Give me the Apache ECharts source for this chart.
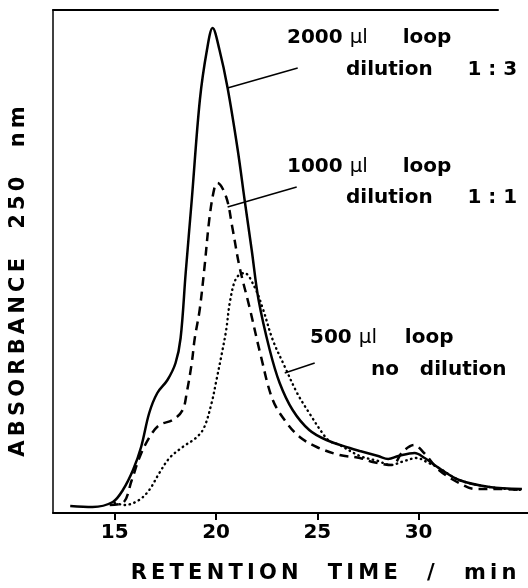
<!DOCTYPE html>
<html>
<head>
<meta charset="utf-8">
<script src="https://cdn.jsdelivr.net/npm/echarts@6/dist/echarts.min.js"></script>
<style>html,body{margin:0;padding:0;background:#fff;}#c{width:528px;height:588px;}</style>
</head>
<body>
<div id="c"></div>
<script>
// Retention time (min) and absorbance (arbitrary units)
const loop2000T = [12.8,13.9,14.9,15.4,15.9,16.3,16.7,17.1,17.6,18.0,18.25,18.5,18.8,19.2,19.55,19.83,20.17,20.57,21.07,21.41,21.76,22.1,22.65,23.14,23.78,24.6,25.45,26.6,27.1,28.0,28.5,29.0,29.8,30.3,31.0,32.0,33.5,35.1];
const loop2000V = [7,6,11,23,43,66,100,120,133,150,175,240,313,413,463,485,463,425,363,313,263,213,163,130,103,83,73,65,62,57,54,57,60,55,45,33,26,24];

const loop1000T = [14.75,15.4,15.84,16.23,16.72,17.2,17.86,18.35,18.55,18.8,18.95,19.19,19.43,19.68,19.93,20.07,20.5,20.8,21.16,21.66,22.2,22.8,23.49,24.13,24.97,26.1,27.1,27.73,28.7,29.2,29.78,30.27,31.0,32.0,32.8,34.0,35.1];
const loop1000V = [8,10,33,56,76,88,93,103,120,150,175,203,246,296,326,330,316,286,246,205,158,113,90,76,66,58,55,51,48,61,68,60,43,30,24,24,23];

const loop500T = [15.0,15.5,16.2,16.7,17.2,17.7,18.35,19.0,19.4,19.78,20.02,20.27,20.5,20.7,21.0,21.4,21.9,22.3,22.8,23.4,24.0,24.6,25.25,25.6,26.1,27.1,28.0,28.6,29.3,29.9,30.5,31.0,32.0,33.5,35.1];
const loop500V = [10,8,13,23,40,55,66,75,85,110,133,158,183,213,235,240,226,205,173,146,120,100,80,72,68,57,52,48,52,55,50,45,33,26,23];

const xTicks = [15, 20, 25, 30];

// leader lines (data coordinates): [from, to]
const leader2000 = [[24.03, 445], [20.57, 425]];
const leader1000 = [[23.98, 326], [20.57, 306]];
const leader500 = [[24.87, 150], [23.39, 140]];

const zip = (t, v) => t.map((x, i) => [x, v[i]]);
const FONT = '"DejaVu Sans", "Liberation Sans", sans-serif';
const TS = '\u2009';
const spaced = s => s.split('').join(TS);

function leader(pair) {
  return {
    silent: true, symbol: 'none', label: {show: false},
    lineStyle: {color: '#000', width: 1.5, type: 'solid'},
    data: [[{coord: pair[0]}, {coord: pair[1]}]]
  };
}

const chart = echarts.init(document.getElementById('c'), null, {renderer: 'canvas'});
const rich = {
  b: {fontFamily: FONT, fontWeight: 'bold', fontSize: 20, color: '#000'},
  m: {fontFamily: FONT, fontWeight: 'normal', fontSize: 20, color: '#000'}
};
function txt(x, y, text) {
  return {type: 'text', x: x, y: y, style: {text: text, rich: rich, fill: '#000',
    font: 'bold 20px ' + FONT, verticalAlign: 'middle'}};
}

chart.setOption({
  animation: false,
  backgroundColor: '#fff',
  grid: [
    {left: 53, top: 10, right: 0, bottom: 75, containLabel: false, outerBoundsMode: 'none'},
    {left: 53, top: 10, right: 30, bottom: 75, containLabel: false, outerBoundsMode: 'none'}
  ],
  xAxis: [{
    type: 'value', gridIndex: 0, min: 11.95, max: 35.4,
    axisLine: {show: true, lineStyle: {color: '#000', width: 2}},
    axisTick: {show: true, customValues: xTicks, length: 7, inside: false, lineStyle: {color: '#000', width: 2}},
    axisLabel: {show: true, customValues: xTicks, fontFamily: FONT, fontWeight: 'bold', fontSize: 20, color: '#000', margin: 10},
    splitLine: {show: false},
    name: spaced('RETENTION') + '    ' + spaced('TIME') + '    /    ' + spaced('min'),
    nameLocation: 'middle', nameGap: 50,
    nameTextStyle: {fontFamily: FONT, fontWeight: 'bold', fontSize: 21, color: '#000', padding: [0, 0, 0, 66]}
  }, {
    type: 'value', gridIndex: 1, position: 'top', min: 0, max: 1,
    axisLine: {show: true, onZero: false, lineStyle: {color: '#000', width: 2}},
    axisTick: {show: false}, axisLabel: {show: false}, splitLine: {show: false}
  }],
  yAxis: [{
    type: 'value', gridIndex: 0, min: 0, max: 503,
    axisLine: {show: true, lineStyle: {color: '#000', width: 1.5}},
    axisTick: {show: false}, axisLabel: {show: false}, splitLine: {show: false},
    name: spaced('ABSORBANCE') + '    ' + spaced('250') + '    ' + spaced('nm'),
    nameLocation: 'middle', nameRotate: 90, nameGap: 24,
    nameTextStyle: {fontFamily: FONT, fontWeight: 'bold', fontSize: 21, color: '#000', padding: [0, 40, 0, 0]}
  }, {
    type: 'value', gridIndex: 1, show: false, min: 0, max: 1
  }],
  series: [{
    name: '2000 µl loop, dilution 1:3', type: 'line', data: zip(loop2000T, loop2000V),
    showSymbol: false, smooth: 0.35,
    lineStyle: {color: '#000', width: 2.5, type: 'solid'},
    markLine: leader(leader2000)
  }, {
    name: '1000 µl loop, dilution 1:1', type: 'line', data: zip(loop1000T, loop1000V),
    showSymbol: false, smooth: 0.35,
    lineStyle: {color: '#000', width: 2.5, type: [9, 6]},
    markLine: leader(leader1000)
  }, {
    name: '500 µl loop, no dilution', type: 'line', data: zip(loop500T, loop500V),
    showSymbol: false, smooth: 0.35,
    lineStyle: {color: '#000', width: 2.4, type: [0.5, 4.5], cap: 'round'},
    markLine: leader(leader500)
  }],
  graphic: [
    txt(287, 38, '{b|2000} {m|\u03bcl}     {b|loop}'),
    txt(346, 70, 'dilution     1 : 3'),
    txt(287, 167, '{b|1000} {m|\u03bcl}     {b|loop}'),
    txt(346, 198, 'dilution     1 : 1'),
    txt(310, 338, '{b|500} {m|\u03bcl}    {b|loop}'),
    txt(371, 370, 'no   dilution')
  ]
});
</script>
</body>
</html>
